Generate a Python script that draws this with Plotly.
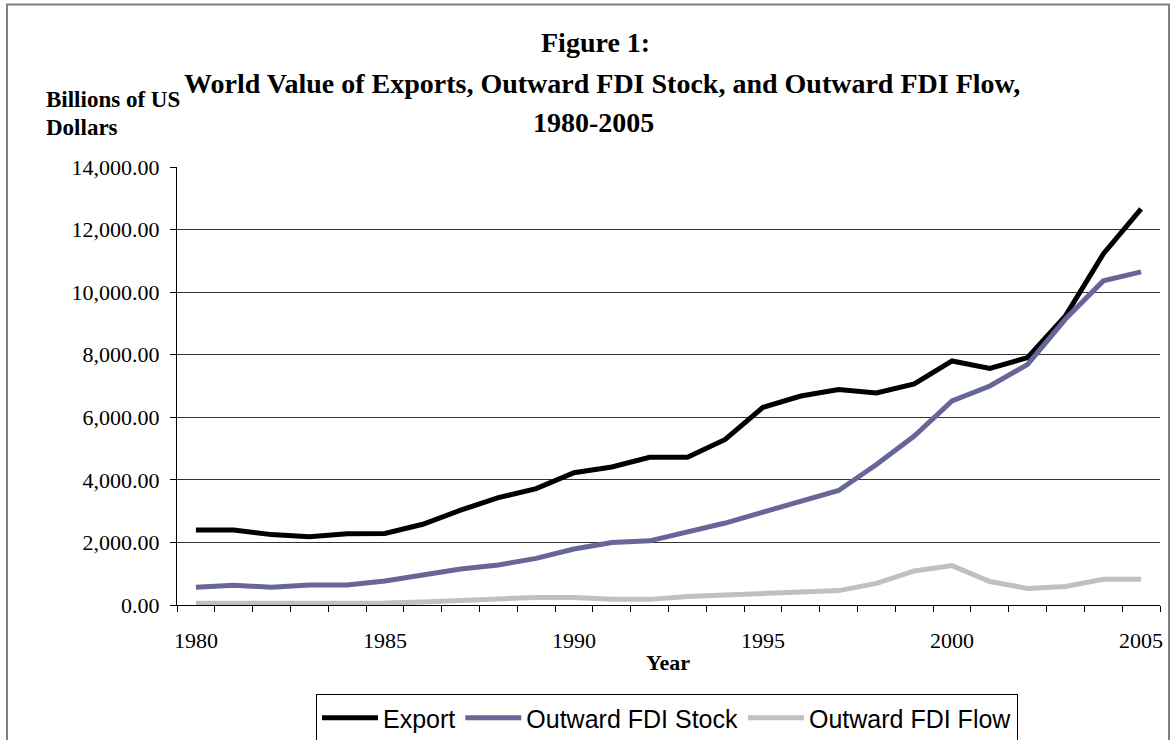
import plotly.graph_objects as go

years = list(range(1980, 2006))
export_vals = [2400, 2400, 2250, 2180, 2280, 2285, 2580, 3030, 3430, 3720, 4230, 4410, 4720,
               4720, 5290, 6320, 6680, 6890, 6780, 7070, 7800, 7560, 7910, 9240, 11220, 12660]
fdi_stock = [570, 630, 570, 640, 640, 770, 960, 1150, 1280, 1490, 1790, 1995, 2050,
             2330, 2620, 2970, 3310, 3660, 4490, 5400, 6520, 7000, 7690, 9140, 10360, 10650]
fdi_flow = [55, 55, 28, 50, 50, 60, 95, 140, 190, 240, 240, 180, 180,
            270, 320, 370, 400, 460, 690, 1090, 1260, 750, 530, 590, 820, 820]
label_years = [1980, 1985, 1990, 1995, 2000, 2005]
y_ticks = [0, 2000, 4000, 6000, 8000, 10000, 12000, 14000]

SERIF = "Liberation Serif, Times New Roman, serif"
SANS = "Liberation Sans, Arial, sans-serif"

fig = go.Figure()
fig.add_trace(go.Scatter(x=years, y=export_vals, mode="lines", name="Export",
                         line=dict(color="#000000", width=5)))
fig.add_trace(go.Scatter(x=years, y=fdi_stock, mode="lines", name="Outward FDI Stock",
                         line=dict(color="#666699", width=5)))
fig.add_trace(go.Scatter(x=years, y=fdi_flow, mode="lines", name="Outward FDI Flow",
                         line=dict(color="#C0C0C0", width=5)))

L, R, T, B = 177, 10, 167, 135
W, H = 1170, 740
PW, PH = W - L - R, H - T - B


def px(x):
    return (x - L) / PW


def py(y):
    return (H - B - y) / PH


annotations = [
    dict(text="<b>Figure 1:</b>", x=px(595), y=py(43), font=dict(size=28)),
    dict(text="<b>World Value of Exports, Outward FDI Stock, and Outward FDI Flow,</b>",
         x=px(602), y=py(84), font=dict(size=28)),
    dict(text="<b>1980-2005</b>", x=px(593), y=py(123), font=dict(size=28)),
    dict(text="<b>Billions of US</b>", x=px(44), y=py(100), xanchor="left", font=dict(size=23)),
    dict(text="<b>Dollars</b>", x=px(44), y=py(127), xanchor="left", font=dict(size=23)),
    dict(text="<b>Year</b>", x=px(668), y=py(662), font=dict(size=22)),
]
for a in annotations:
    a.update(xref="paper", yref="paper", showarrow=False, yanchor="middle")
    a.setdefault("xanchor", "center")
    a["font"].update(family=SERIF, color="#000000")

fig.update_layout(
    width=W, height=H,
    margin=dict(l=L, r=R, t=T, b=B, autoexpand=False),
    paper_bgcolor="white", plot_bgcolor="white",
    showlegend=True,
    legend=dict(orientation="h", x=px(316), y=py(694), xanchor="left", yanchor="top",
                bordercolor="#000000", borderwidth=1, bgcolor="white",
                font=dict(family=SANS, size=25, color="#000000"),
                itemwidth=56, tracegroupgap=0),
    annotations=annotations,
    shapes=[dict(type="rect", xref="paper", yref="paper",
                 x0=px(7), x1=px(1169), y0=py(760), y1=py(4.5),
                 line=dict(color="#808080", width=2), fillcolor="rgba(0,0,0,0)", layer="below")],
    xaxis=dict(range=[1979.5, 2005.5], tickmode="array", tickvals=label_years,
               ticktext=[str(v) for v in label_years], ticks="", showgrid=False,
               showline=True, linecolor="#000000", linewidth=1, zeroline=False,
               ticklabelstandoff=16,
               tickfont=dict(family=SERIF, size=22, color="#000000"),
               minor=dict(tickmode="array", tickvals=[1979.5 + i for i in range(27)],
                          ticks="outside", ticklen=6, tickcolor="#000000", tickwidth=1,
                          showgrid=False)),
    yaxis=dict(range=[0, 14000], tickmode="array", tickvals=y_ticks,
               ticktext=[f"{v:,.2f}" for v in y_ticks],
               ticks="outside", ticklen=6, tickcolor="#000000", tickwidth=1,
               showgrid=True, gridcolor="#333333", gridwidth=1,
               showline=True, linecolor="#000000", linewidth=1, zeroline=False,
               ticklabelstandoff=6,
               tickfont=dict(family=SERIF, size=22, color="#000000")),
)

fig.write_html("out.html", config={"displayModeBar": False},
               post_script="document.body.style.margin='0';document.body.style.overflow='hidden';")
